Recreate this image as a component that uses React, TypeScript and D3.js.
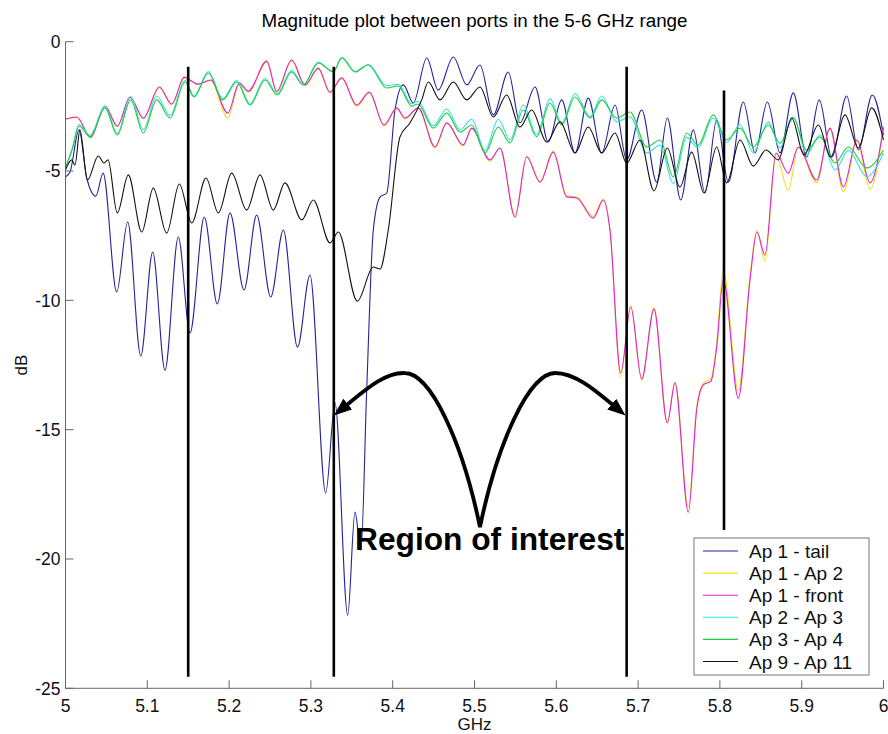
import React from 'react';
import * as d3 from 'd3';

// ---------- data ----------
const xTicks = [5, 5.1, 5.2, 5.3, 5.4, 5.5, 5.6, 5.7, 5.8, 5.9, 6];
const yTicks = [0, -5, -10, -15, -20, -25];

const seriesNames = ['Ap 1 - tail', 'Ap 1 - Ap 2', 'Ap 1 - front', 'Ap 2 - Ap 3', 'Ap 3 - Ap 4', 'Ap 9 - Ap 11'];
const seriesColors = ['#23239a', '#f2e21a', '#dd22dd', '#3adede', '#22cc44', '#111111'];

const tailF = [5.000,5.0055,5.0165,5.026,5.037,5.046,5.0626,5.076,5.092,5.1066,5.1216,5.1379,5.1522,5.1697,5.1856,5.2011,5.2182,5.2337,5.2509,5.2663,5.2836,5.2989,5.3181,5.3295,5.345,5.3539,5.3612,5.3682,5.3763,5.3845,5.3927,5.4028,5.413,5.4252,5.4416,5.4557,5.4741,5.4905,5.5067,5.523,5.5413,5.5556,5.574,5.5902,5.6066,5.6229,5.6391,5.6555,5.6718,5.686,5.7044,5.7227,5.7357,5.7521,5.7675,5.7818,5.7961,5.8103,5.8286,5.8429,5.858,5.8735,5.8897,5.9061,5.9215,5.9367,5.955,5.9692,5.9863,6.000];
const tailDb = [-5.23,-5.04,-3.41,-5.27,-5.97,-5.08,-9.68,-6.97,-12.15,-8.13,-12.70,-7.55,-11.26,-6.78,-10.14,-6.62,-9.60,-6.70,-9.87,-7.28,-11.81,-9.02,-17.45,-13.97,-22.17,-18.19,-19.66,-13.47,-7.28,-6.01,-5.85,-2.64,-1.67,-2.37,-0.63,-1.87,-0.59,-1.67,-0.90,-2.83,-1.17,-3.14,-1.75,-3.88,-2.25,-4.30,-2.18,-4.30,-2.45,-4.57,-2.64,-5.43,-2.95,-6.12,-3.41,-5.85,-3.03,-5.43,-2.33,-4.30,-2.33,-4.30,-1.98,-4.46,-2.25,-4.46,-2.10,-4.19,-2.06,-3.61];

const frontF = [5.000,5.0137,5.0308,5.0483,5.0633,5.0789,5.0951,5.1147,5.1298,5.1452,5.1522,5.162,5.1775,5.1983,5.2125,5.2235,5.246,5.2582,5.2765,5.2928,5.309,5.3233,5.3377,5.356,5.3714,5.3894,5.4049,5.415,5.4313,5.4517,5.466,5.4863,5.4966,5.5189,5.5312,5.5495,5.5638,5.5801,5.5963,5.6127,5.625,5.6452,5.6575,5.6656,5.6787,5.691,5.7044,5.7194,5.7357,5.7451,5.7614,5.7716,5.7797,5.7891,5.7961,5.8042,5.8225,5.8368,5.8453,5.8551,5.8686,5.8836,5.8958,5.9183,5.9346,5.9509,5.9676,5.9835,6.000];
const frontDb = [-2.99,-2.91,-3.69,-2.49,-3.26,-2.14,-2.95,-1.75,-2.41,-1.37,-1.48,-1.64,-1.48,-2.76,-1.60,-1.91,-0.75,-1.91,-0.71,-1.67,-1.02,-1.95,-1.40,-2.45,-1.95,-3.22,-2.56,-2.95,-2.56,-4.07,-3.14,-3.99,-3.34,-4.57,-4.11,-6.78,-4.46,-5.43,-4.27,-6.00,-6.04,-6.82,-6.12,-7.28,-12.81,-10.26,-13.04,-10.34,-14.74,-13.20,-18.19,-14.24,-13.27,-13.12,-11.81,-9.21,-13.78,-9.21,-7.36,-8.25,-4.31,-5.08,-4.07,-5.35,-3.34,-5.62,-3.80,-5.46,-3.30];
const ap12Db = [-3.01,-2.93,-3.72,-2.50,-3.28,-2.16,-2.98,-1.78,-2.44,-1.40,-1.50,-1.66,-1.50,-2.95,-1.62,-1.95,-0.78,-1.95,-0.74,-1.70,-1.05,-1.98,-1.43,-2.50,-1.98,-3.26,-2.58,-2.99,-2.58,-4.12,-3.16,-4.04,-3.36,-4.62,-4.12,-6.72,-4.42,-5.40,-4.22,-5.95,-6.00,-6.75,-6.08,-7.25,-12.95,-10.20,-13.10,-10.28,-14.70,-13.15,-18.00,-14.10,-13.20,-13.02,-11.60,-8.83,-13.50,-9.05,-7.30,-8.50,-4.40,-5.74,-4.10,-5.45,-3.38,-5.80,-3.85,-5.70,-3.35];

const ap34F = [5.000,5.008,5.0165,5.03,5.0483,5.0633,5.0797,5.0951,5.1115,5.1278,5.1461,5.1571,5.1746,5.1922,5.2093,5.2255,5.2439,5.2589,5.2763,5.2907,5.309,5.3274,5.3377,5.3539,5.3702,5.3927,5.4068,5.4232,5.4309,5.4496,5.466,5.4823,5.4966,5.5128,5.5291,5.5434,5.5597,5.576,5.5923,5.6066,5.6229,5.6412,5.6555,5.6738,5.6901,5.7105,5.7268,5.743,5.7594,5.7732,5.7919,5.8083,5.8246,5.8408,5.8592,5.8735,5.8897,5.9061,5.9224,5.9407,5.957,5.9795,6.000];
const ap34Db = [-4.85,-4.19,-3.26,-3.68,-2.56,-3.61,-2.25,-3.53,-2.25,-2.95,-1.56,-2.14,-1.21,-2.25,-1.56,-2.45,-1.48,-2.06,-1.17,-1.67,-0.82,-1.17,-0.63,-1.17,-0.90,-1.79,-1.71,-2.49,-2.41,-3.34,-2.76,-3.49,-3.22,-4.30,-3.30,-3.91,-2.64,-3.68,-2.37,-3.22,-2.14,-2.95,-2.25,-2.95,-2.72,-4.07,-3.80,-5.23,-3.53,-4.00,-2.83,-3.80,-3.34,-4.07,-3.22,-3.92,-2.95,-4.19,-3.68,-4.69,-4.07,-4.88,-4.19];
const ap23Db = [-4.85,-4.15,-3.20,-3.62,-2.50,-3.55,-2.12,-3.40,-2.10,-2.85,-1.50,-2.10,-1.15,-2.20,-1.50,-2.40,-1.42,-2.00,-1.12,-1.65,-0.80,-1.15,-0.60,-1.15,-0.88,-1.70,-1.65,-2.40,-2.30,-3.25,-2.60,-3.40,-3.00,-4.20,-3.00,-3.80,-2.45,-3.60,-2.20,-3.15,-2.00,-2.90,-2.10,-3.10,-2.90,-4.30,-4.00,-5.48,-3.70,-4.10,-2.95,-3.90,-3.20,-4.30,-3.10,-4.10,-2.90,-4.35,-3.60,-4.96,-4.20,-5.22,-4.30];

const ap911F = [5.000,5.0076,5.0116,5.0177,5.0267,5.0401,5.0471,5.052,5.0633,5.0768,5.0932,5.1073,5.1237,5.1391,5.1543,5.1718,5.1868,5.2032,5.2215,5.2378,5.254,5.2683,5.2888,5.3029,5.3234,5.3335,5.3567,5.3763,5.3845,5.3946,5.4089,5.4211,5.4355,5.4435,5.4578,5.4741,5.4905,5.5067,5.523,5.5394,5.5556,5.5699,5.5883,5.6045,5.6229,5.6391,5.6555,5.6718,5.686,5.7023,5.7194,5.7357,5.7512,5.7655,5.7806,5.7961,5.8083,5.8246,5.8408,5.8564,5.8714,5.8878,5.9028,5.9203,5.9355,5.9529,5.9692,5.9856,6.000];
const ap911Db = [-4.96,-4.57,-4.77,-3.41,-5.35,-4.42,-4.69,-4.57,-6.62,-5.15,-7.36,-5.66,-7.40,-5.50,-7.01,-5.27,-6.62,-5.08,-6.51,-5.15,-6.51,-5.46,-6.89,-6.12,-7.78,-7.36,-10.03,-8.71,-8.79,-7.28,-3.68,-3.14,-2.25,-1.56,-2.25,-1.56,-2.25,-1.75,-2.91,-2.06,-3.30,-2.64,-3.88,-3.10,-4.30,-3.30,-4.30,-3.53,-4.69,-3.80,-5.77,-4.11,-5.62,-4.27,-5.85,-4.07,-5.46,-3.80,-4.81,-4.19,-4.57,-2.95,-4.38,-3.22,-4.46,-2.83,-4.11,-2.56,-3.80];

// vertical marker lines (GHz, top dB, bottom dB)
const markerF = [5.15, 5.328, 5.686, 5.805];
const markerTop = [-0.97, -0.97, -0.97, -1.89];
const markerBottom = [-24.55, -24.55, -24.55, -18.88];

// annotation bezier path (GHz, dB): start, then triples of (c1, c2, end)
const annotationPath: [number, number][] = [
  [5.3413, -14.11],
  [5.3661, -13.47], [5.3906, -12.77], [5.415, -12.81],
  [5.4456, -12.81], [5.4847, -15.40], [5.5067, -18.77],
  [5.5287, -15.40], [5.5678, -12.81], [5.5984, -12.81],
  [5.6229, -12.81], [5.6473, -13.47], [5.6715, -14.11],
];
const annotationText = 'Region of interest';
const annotationTextPos: [number, number] = [5.354, -19.66];

// ---------- layout ----------
const W = 888;
const H = 734;
const PL = 65.5, PR = 883.5, PT = 41.7, PB = 688.3;
const FONT = '"Liberation Sans", Arial, Helvetica, sans-serif';

type Pt = [number, number];
const zip = (f: number[], v: number[]): Pt[] =>
  f.slice(0, Math.min(f.length, v.length)).map((d, i) => [d, v[i]] as Pt);

const seriesData: Pt[][] = [
  zip(tailF, tailDb),
  zip(frontF, ap12Db),
  zip(frontF, frontDb),
  zip(ap34F, ap23Db),
  zip(ap34F, ap34Db),
  zip(ap911F, ap911Db),
];

export default function App() {
  const x = d3.scaleLinear().domain([5, 6]).range([PL, PR]);
  const y = d3.scaleLinear().domain([-25, 0]).range([PB, PT]);
  const line = d3
    .line<Pt>()
    .x((d) => x(d[0]))
    .y((d) => y(d[1]))
    .curve(d3.curveMonotoneX);

  const ap = d3.path();
  const a0 = annotationPath[0];
  ap.moveTo(x(a0[0]), y(a0[1]));
  for (let i = 1; i + 2 <= annotationPath.length - 1; i += 3) {
    const c1 = annotationPath[i], c2 = annotationPath[i + 1], e = annotationPath[i + 2];
    ap.bezierCurveTo(x(c1[0]), y(c1[1]), x(c2[0]), y(c2[1]), x(e[0]), y(e[1]));
  }

  const legX = 694, legY = 538, legW = 175, legH = 137, rowH = 22.1;

  return (
    <svg
      width={W}
      height={H}
      viewBox={`0 0 ${W} ${H}`}
      style={{ position: 'absolute', left: 0, top: 0, background: '#fff' }}
      fontFamily={FONT}
    >
      <defs>
        <marker
          id="ah"
          markerUnits="userSpaceOnUse"
          viewBox="0 0 18 14"
          markerWidth={18}
          markerHeight={14}
          refX={4}
          refY={7}
          orient="auto-start-reverse"
        >
          <path d="M0,0 L18,7 L0,14 Z" fill="#000" />
        </marker>
      </defs>
      <rect x={0} y={0} width={W} height={H} fill="#fff" />

      {/* title */}
      <text x={(PL + PR) / 2} y={26.5} textAnchor="middle" fontSize={18.8} fill="#000">
        Magnitude plot between ports in the 5-6 GHz range
      </text>

      {/* series */}
      {seriesData.map((d, i) => (
        <path key={i} d={line(d) || ''} fill="none" stroke={seriesColors[i]} strokeWidth={1.1} />
      ))}

      {/* vertical marker lines */}
      {markerF.map((f, i) => (
        <line
          key={i}
          x1={x(f)}
          x2={x(f)}
          y1={y(markerTop[i])}
          y2={y(markerBottom[i])}
          stroke="#000"
          strokeWidth={2.6}
        />
      ))}

      {/* annotation */}
      <path
        d={ap.toString()}
        fill="none"
        stroke="#000"
        strokeWidth={3.8}
        markerStart="url(#ah)"
        markerEnd="url(#ah)"
      />
      <text
        x={x(annotationTextPos[0])}
        y={y(annotationTextPos[1])}
        fontSize={31.7}
        fontWeight="bold"
        fill="#000"
      >
        {annotationText}
      </text>

      {/* axes */}
      <line x1={PL} x2={PL} y1={PT} y2={PB} stroke="#666" strokeWidth={1} />
      <line x1={PL} x2={PR} y1={PB} y2={PB} stroke="#666" strokeWidth={1} />
      {yTicks.map((t) => (
        <g key={'y' + t}>
          <line x1={PL} x2={PL + 8} y1={y(t)} y2={y(t)} stroke="#666" />
          <text x={PL - 5} y={y(t)} dy="0.36em" textAnchor="end" fontSize={17.5} fill="#111">
            {t}
          </text>
        </g>
      ))}
      {xTicks.map((t) => (
        <g key={'x' + t}>
          <line x1={x(t)} x2={x(t)} y1={PB} y2={PB - 8} stroke="#666" />
          <text x={x(t)} y={711.5} textAnchor="middle" fontSize={17.5} fill="#111">
            {t}
          </text>
        </g>
      ))}
      <text x={(PL + PR) / 2} y={730} textAnchor="middle" fontSize={17} fill="#111">
        GHz
      </text>
      <text transform={`translate(27,365) rotate(-90)`} textAnchor="middle" fontSize={17} fill="#111">
        dB
      </text>

      {/* legend */}
      <rect x={legX} y={legY} width={legW} height={legH} fill="#fff" stroke="#777" strokeWidth={1} />
      {seriesNames.map((n, i) => {
        const cy = legY + 13 + i * rowH;
        return (
          <g key={n}>
            <line x1={legX + 9} x2={legX + 44} y1={cy} y2={cy} stroke={seriesColors[i]} strokeWidth={1.1} />
            <text x={legX + 55} y={cy + 7} fontSize={19} fill="#111">
              {n}
            </text>
          </g>
        );
      })}
    </svg>
  );
}
